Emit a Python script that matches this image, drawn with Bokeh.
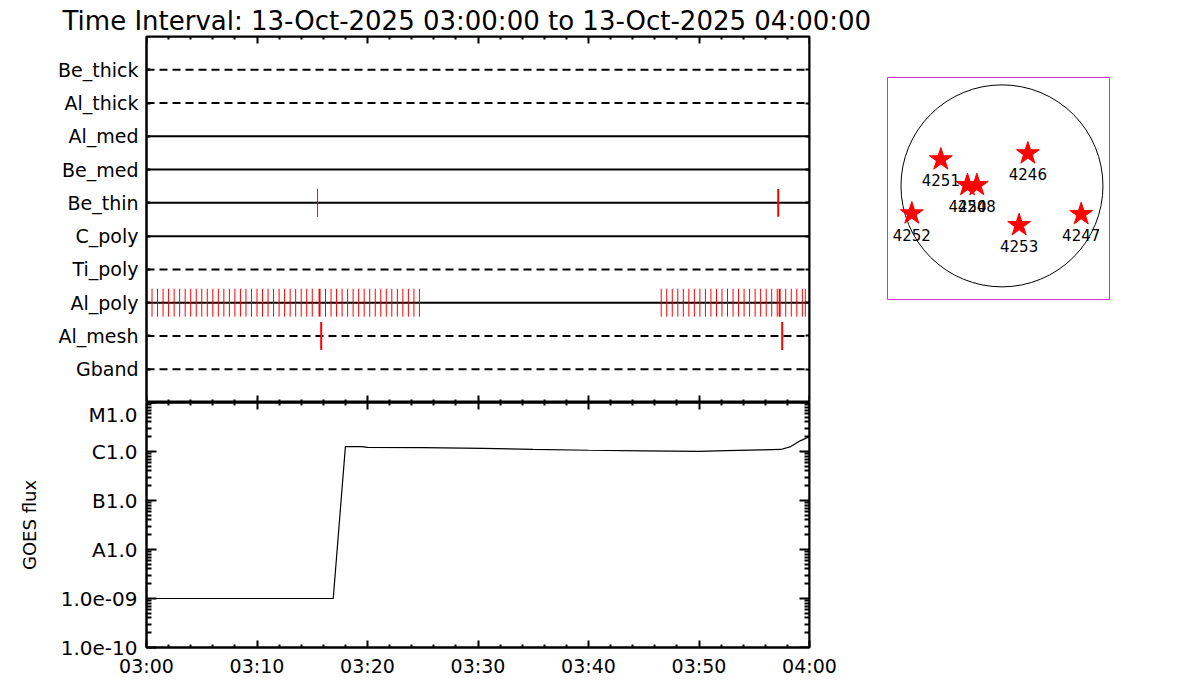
from bokeh.plotting import figure
from bokeh.layouts import row, column
from bokeh.models import (Range1d, FixedTicker, LinearAxis, LogAxis, CustomJSTickFormatter,
                          CustomLabelingPolicy)
from bokeh.embed import file_html
from bokeh.resources import INLINE
from bokeh.core.properties import value

FONT = "DejaVu Sans"

# ---------------- data ----------------
title_text = "Time Interval: 13-Oct-2025 03:00:00 to 13-Oct-2025 04:00:00"
t_start = 0.0   # minutes after 03:00
t_end = 60.0
time_tick_minutes = [0, 10, 20, 30, 40, 50, 60]
time_tick_labels = ["03:00", "03:10", "03:20", "03:30", "03:40", "03:50", "04:00"]

detectors = ["Be_thick", "Al_thick", "Al_med", "Be_med", "Be_thin",
             "C_poly", "Ti_poly", "Al_poly", "Al_mesh", "Gband"]
dashed_detectors = ["Be_thick", "Al_thick", "Ti_poly", "Al_mesh", "Gband"]

# event times (minutes after 03:00)
al_poly_events = [0.0, 0.5, 1.0, 1.5, 2.0, 2.5, 3.0, 3.5, 4.0, 4.5, 5.0, 5.5,
                  6.0, 6.5, 7.0, 7.5, 8.0, 8.5, 9.0, 9.5, 10.0, 10.5, 11.0, 11.5,
                  12.0, 12.5, 13.0, 13.5, 14.0, 14.5, 15.0,
                  16.2, 16.7, 17.2, 17.7, 18.2, 18.7, 19.2, 19.7, 20.2, 20.7,
                  21.2, 21.7, 22.2, 22.7, 23.2, 23.7, 24.2, 24.7,
                  46.58, 47.08, 47.58, 48.08, 48.58, 49.08, 49.58, 50.08, 50.58,
                  51.08, 51.58, 52.08, 52.58, 53.08, 53.58, 54.08, 54.58, 55.08,
                  55.58, 56.08, 56.58, 57.08, 57.85, 58.35, 58.85, 59.35, 59.62]
al_poly_strong = [15.66, 57.3]
be_thin_events = [15.48]
be_thin_strong = [57.17]
al_mesh_strong = [15.81, 57.53]

goes_t = [0.0, 16.9, 18.0, 19.5, 20.0, 25.0, 30.5, 35.0, 40.0, 45.0, 50.0,
          52.5, 55.6, 57.4, 58.3, 59.2, 60.0]
goes_flux = [1.0e-9, 1.0e-9, 1.26e-6, 1.26e-6, 1.21e-6, 1.2e-6, 1.16e-6, 1.1e-6,
             1.06e-6, 1.03e-6, 1.01e-6, 1.04e-6, 1.08e-6, 1.1e-6, 1.26e-6,
             1.67e-6, 2.0e-6]
goes_tick_values = [1e-10, 1e-9, 1e-8, 1e-7, 1e-6, 1e-5]
goes_tick_labels = ["1.0e-10", "1.0e-09", "A1.0", "B1.0", "C1.0", "M1.0"]

ar_numbers = ["4251", "4246", "4250", "4248", "4252", "4253", "4247"]
ar_x = [-581, 246, -328, -239, -857, 163, 753]
ar_y = [251, 308, 7, 7, -263, -374, -269]
sun_radius = 960

# ---------------- helpers ----------------
def hide_policy():
    return CustomLabelingPolicy(code="""
        const idx = [...indices];
        for (const i of idx) indices.unset(i);
        return indices;
    """)


def style_axis(ax, major_in, minor_in, labels=True, size="19px"):
    ax.major_tick_in = major_in
    ax.major_tick_out = 0
    ax.minor_tick_in = minor_in
    ax.minor_tick_out = 0
    ax.axis_line_width = 2
    ax.axis_line_color = "black"
    ax.major_tick_line_width = 2
    ax.minor_tick_line_width = 2
    ax.major_tick_line_color = "black"
    ax.minor_tick_line_color = "black"
    ax.major_label_text_font = FONT
    ax.major_label_text_color = "black"
    ax.major_label_text_font_size = size
    if not labels:
        ax.major_label_text_font_size = "1px"
        ax.major_label_policy = hide_policy()
        ax.major_label_standoff = 0


time_minor = [m for m in range(2, 60, 2) if m % 10 != 0]
time_overrides = {m: l for m, l in zip(time_tick_minutes, time_tick_labels)}

# ---------------- top panel ----------------
n = len(detectors)
row_pos = {d: n - i for i, d in enumerate(detectors)}

p1 = figure(x_range=Range1d(t_start, t_end), y_range=Range1d(0, n + 1),
            frame_width=663, frame_height=366,
            min_border_left=146, min_border_right=76, min_border_top=36,
            min_border_bottom=0,
            output_backend="svg", toolbar_location=None, title=title_text)
p1.title.align = "left"
p1.title.offset = -84
p1.title.standoff = 2
p1.title.text_font = FONT
p1.title.text_font_size = "26px"
p1.title.text_font_style = "normal"
p1.title.text_color = "black"
p1.grid.visible = False
p1.outline_line_color = "black"
p1.outline_line_width = 2

p1.yaxis.ticker = FixedTicker(ticks=[row_pos[d] for d in detectors], minor_ticks=[])
p1.yaxis.major_label_overrides = {row_pos[d]: d for d in detectors}
style_axis(p1.yaxis[0], 4, 0, labels=True)
p1.yaxis.major_label_standoff = 8

p1.xaxis.ticker = FixedTicker(ticks=time_tick_minutes, minor_ticks=time_minor)
style_axis(p1.xaxis[0], 7, 3, labels=False)
p1.xaxis.fixed_location = 0

ax_top = LinearAxis(ticker=FixedTicker(ticks=time_tick_minutes, minor_ticks=time_minor),
                    fixed_location=n + 1)
style_axis(ax_top, 7, 3, labels=False)
p1.add_layout(ax_top, "above")
ax_r = LinearAxis(ticker=FixedTicker(ticks=[row_pos[d] for d in detectors], minor_ticks=[]),
                  fixed_location=t_end)
style_axis(ax_r, 4, 0, labels=False)
p1.add_layout(ax_r, "right")

for d in detectors:
    y = row_pos[d]
    p1.line([t_start, t_end], [y, y], line_color="black", line_width=2,
            line_dash="8 5" if d in dashed_detectors else "solid")

half = 0.42


def events(det, times, width):
    y = row_pos[det]
    p1.segment(x0=times, y0=[y - half] * len(times), x1=times, y1=[y + half] * len(times),
               line_color="#ff0000", line_width=width)


events("Al_poly", al_poly_events, 1)
events("Al_poly", al_poly_strong, 2)
events("Be_thin", be_thin_events, 1)
events("Be_thin", be_thin_strong, 2)
events("Al_mesh", al_mesh_strong, 2)

# ---------------- GOES panel ----------------
p2 = figure(x_range=Range1d(t_start, t_end),
            y_range=Range1d(goes_tick_values[0], goes_tick_values[-1]),
            y_axis_type="log",
            frame_width=663, frame_height=245,
            min_border_left=146, min_border_right=76, min_border_top=0,
            min_border_bottom=38,
            output_backend="svg", toolbar_location=None)
p2.grid.visible = False
p2.outline_line_color = "black"
p2.outline_line_width = 2

log_minor = [m * 10.0 ** e for e in range(-10, -5) for m in range(2, 10)]
fmt = CustomJSTickFormatter(args=dict(vals=goes_tick_values, labels=goes_tick_labels), code="""
    let best = -1, bd = 1e9;
    for (let i = 0; i < vals.length; i++) {
        const d = Math.abs(Math.log10(tick) - Math.log10(vals[i]));
        if (d < bd) { bd = d; best = i; }
    }
    return bd < 0.01 ? labels[best] : "";
""")
p2.yaxis.ticker = FixedTicker(ticks=goes_tick_values, minor_ticks=log_minor)
p2.yaxis.formatter = fmt
style_axis(p2.yaxis[0], 10, 5, labels=True, size="20px")
p2.yaxis.major_label_standoff = 9
p2.yaxis.axis_label = "GOES flux"
p2.yaxis.axis_label_text_font = FONT
p2.yaxis.axis_label_text_font_size = "18px"
p2.yaxis.axis_label_text_font_style = "normal"
p2.yaxis.axis_label_text_color = "black"
p2.yaxis.axis_label_standoff = 18

p2.xaxis.ticker = FixedTicker(ticks=time_tick_minutes, minor_ticks=time_minor)
p2.xaxis.major_label_overrides = time_overrides
style_axis(p2.xaxis[0], 7, 3, labels=True)
p2.xaxis.major_label_standoff = 7

ax2_top = LinearAxis(ticker=FixedTicker(ticks=time_tick_minutes, minor_ticks=time_minor),
                     fixed_location=goes_tick_values[-1])
style_axis(ax2_top, 7, 3, labels=False)
p2.add_layout(ax2_top, "above")
ax2_r = LogAxis(ticker=FixedTicker(ticks=goes_tick_values, minor_ticks=log_minor),
                fixed_location=t_end)
style_axis(ax2_r, 10, 5, labels=False)
p2.add_layout(ax2_r, "right")

p2.line(goes_t, goes_flux, line_color="black", line_width=1.2)

# ---------------- solar map ----------------
p3 = figure(x_range=Range1d(-1088, 1022), y_range=Range1d(-1080, 1030),
            frame_width=222, frame_height=222,
            min_border_left=2, min_border_right=10, min_border_top=77,
            min_border_bottom=10,
            output_backend="svg", toolbar_location=None)
p3.axis.visible = False
p3.grid.visible = False
p3.outline_line_color = "#cc33cc"
p3.outline_line_width = 1
p3.circle(x=[0], y=[0], radius=[sun_radius], fill_color=None, line_color="black", line_width=1)
p3.scatter(ar_x, ar_y, marker="star", size=24, fill_color="#ff0000", line_color="#ff0000")
p3.text(ar_x, ar_y, text=ar_numbers, text_align="center", text_baseline="middle",
        y_offset=21, text_font=value(FONT), text_font_size="15px", text_color="black")

layout = row(column(p1, p2), p3)
open("out.html", "w").write(file_html(layout, INLINE))
